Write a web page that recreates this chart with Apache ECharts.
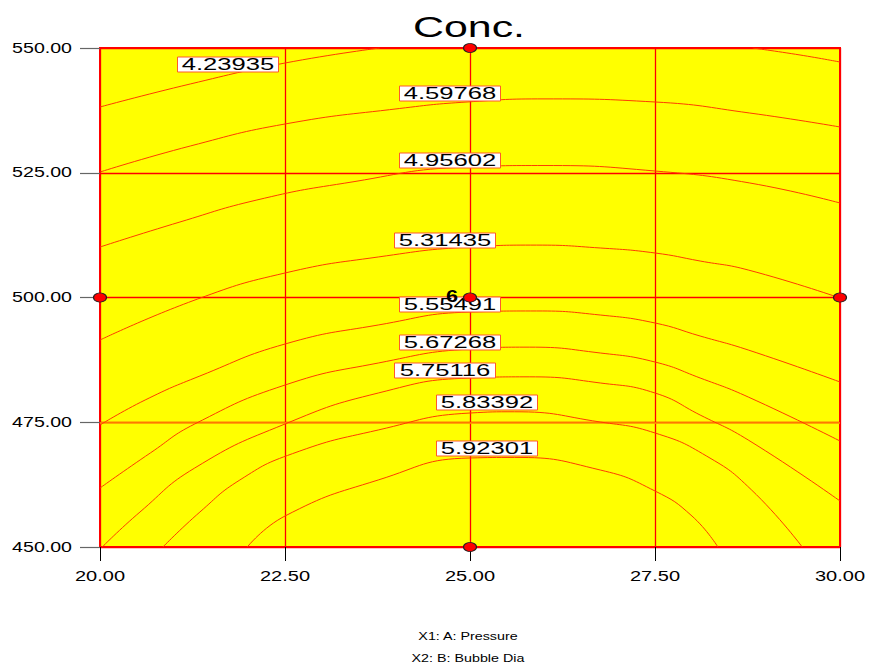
<!DOCTYPE html>
<html>
<head>
<meta charset="utf-8">
<script src="https://cdn.jsdelivr.net/npm/echarts@6/dist/echarts.min.js"></script>
<style>
  html, body { margin: 0; padding: 0; background: #ffffff; }
  #chart { width: 869px; height: 664px; }
</style>
</head>
<body>
<div id="chart"></div>
<script>
// Contour plot of the response "Conc." over Pressure (X1) and Bubble Dia (X2)

const xTicks = [20, 22.5, 25, 27.5, 30];
const yTicks = [450, 475, 500, 525, 550];

const contourLevels = [4.23935, 4.59768, 4.95602, 5.31435, 5.55491, 5.67268, 5.75116, 5.83392, 5.92301];

// contour traces, [pressure, bubble dia]
const level1Left  = [[20, 538.18], [21.22, 542.79], [22.5, 546.99], [23.78, 550]];
const level1Right = [[28.82, 550], [29.46, 548.6], [30, 547.19]];
const level2 = [[20, 525.15], [21.22, 530.36], [22.5, 534.77], [24.05, 537.88], [24.96, 539.18],
                [26.0, 539.8], [27.5, 539.18], [28.78, 536.97], [30, 534.17]];
const level3 = [[20, 510.12], [21.08, 515.13], [22.12, 519.54], [23.3, 522.9], [24.96, 526.15],
                [26.0, 526.45], [27.5, 525.35], [28.78, 522.95], [30, 518.94]];
const level4 = [[20, 491.48], [21.32, 499.7], [22.5, 504.91], [23.76, 508.12], [25, 510.12], [25.9, 510.5],
                [26.76, 509.92], [27.5, 508.92], [28.11, 507.31], [28.76, 505.51], [30, 499.9]];
const level5 = [[20, 474.45], [20.61, 479.46], [21.35, 484.27], [22.5, 490.68], [23.76, 494.49], [25, 497.09],
                [25.9, 497.3], [26.76, 496.49], [27.5, 494.89], [28.11, 492.28], [28.76, 489.48], [30, 483.07]];
const level6 = [[20, 461.82], [20.68, 468.84], [21.28, 474.65], [22.5, 482.46], [23.76, 486.87],
                [25, 489.68], [25.8, 490.05], [26.76, 488.88], [27.5, 487.07], [28.11, 483.87], [28.76, 480.06], [30, 471.24]];
const level7 = [[20.03, 450], [20.54, 457.01], [21.28, 465.83], [22.5, 474.65], [23.76, 480.86],
                [25, 483.87], [25.8, 484.1], [26.76, 482.87], [27.5, 480.86], [28.11, 476.45], [28.76, 471.44], [30, 459.22]];
const level8 = [[20.85, 450], [21.35, 457.01], [21.89, 463.43], [22.6, 468.7], [23.76, 473.45],
                [25, 476.85], [25.6, 477.1], [26.76, 475.05], [27.5, 472.85], [28.2, 468.2], [28.8, 461.5], [29.49, 450]];
const level9 = [[21.99, 450], [22.5, 456.21], [23.76, 463.43], [25, 467.84], [25.6, 467.95],
                [26.76, 465.43], [27.5, 461.22], [28.0, 456.2], [28.35, 450]];

// design runs; the centre point holds several replicates
const designPoints = [[25, 550], [20, 500], [25, 500], [30, 500], [25, 450]];
const centerPoint = [25, 500];
const centerReplicates = 6;

// ---- layout ----
const levelLabelAt = [[21.73, 546.79], [24.73, 540.98], [24.73, 527.56], [24.66, 511.52], [24.73, 498.70],
                      [24.73, 491.08], [24.66, 485.47], [25.23, 479.06], [25.23, 469.84]];
const FONT = '"Liberation Sans", Arial, Helvetica, sans-serif';

const traces = [level1Left, level1Right, level2, level3, level4, level5, level6, level7, level8, level9];

const contourSeries = traces.map((pts, i) => ({
  type: 'line',
  name: 'contour' + i,
  data: pts,
  symbol: 'none',
  smooth: 0.5,
  silent: true,
  z: 3,
  lineStyle: { color: '#ff3c00', width: 1 }
}));

// orange reference line at 475
contourSeries[0].markLine = {
  silent: true,
  symbol: 'none',
  label: { show: false },
  lineStyle: { color: '#ffa000', width: 1.5, type: 'solid' },
  data: [{ yAxis: 475 }],
  z: 2
};

const chart = echarts.init(document.getElementById('chart'), null, { renderer: 'svg' });

chart.setOption({
  animation: false,
  backgroundColor: '#ffffff',
  grid: {
    left: 100, right: 29, top: 48, bottom: 117,
    containLabel: false,
    outerBoundsMode: 'none',
    show: true,
    backgroundColor: '#ffff00',
    borderColor: '#ff0000',
    borderWidth: 2
  },
  xAxis: {
    type: 'value', min: 20, max: 30, interval: 2.5,
    axisLine: { show: false },
    axisTick: { show: true, length: 14, lineStyle: { color: '#000', width: 1 } },
    axisLabel: { show: false },
    splitLine: { show: true, lineStyle: { color: '#ff0000', width: 1.3 } }
  },
  yAxis: {
    type: 'value', min: 450, max: 550, interval: 25,
    axisLine: { show: false },
    axisTick: { show: true, length: 20, lineStyle: { color: '#666', width: 1.2 } },
    axisLabel: { show: false },
    splitLine: { show: true, lineStyle: { color: '#ff0000', width: 1.3 } }
  },
  graphic: [
    { type: 'text', x: 469, y: 27, scaleX: 1.48, z: 10,
      style: { text: 'Conc.', align: 'center', verticalAlign: 'middle', font: '29px ' + FONT, fill: '#000' } },
    { type: 'text', x: 468, y: 636, scaleX: 1.3, z: 10,
      style: { text: 'X1: A: Pressure', align: 'center', verticalAlign: 'middle', font: '11px ' + FONT, fill: '#000' } },
    { type: 'text', x: 468, y: 658, scaleX: 1.3, z: 10,
      style: { text: 'X2: B: Bubble Dia', align: 'center', verticalAlign: 'middle', font: '11px ' + FONT, fill: '#000' } }
  ],
  series: contourSeries.concat([
    {
      // contour level labels
      type: 'custom',
      name: 'levelLabels',
      silent: true,
      z: 5,
      clip: false,
      data: levelLabelAt.map((p, i) => [p[0], p[1], contourLevels[i]]),
      encode: { x: 0, y: 1 },
      renderItem(params, api) {
        const p = api.coord([api.value(0), api.value(1)]);
        return {
          type: 'group', x: Math.round(p[0]), y: Math.round(p[1]) + 0.5,
          children: [
            { type: 'rect', shape: { x: -50.5, y: -7.5, width: 101, height: 15 },
              style: { fill: '#ffffff', stroke: '#ff5a2a', lineWidth: 1 } },
            { type: 'text', x: 0, y: 0.5, scaleX: 1.6,
              style: { text: api.value(2).toFixed(5), x: 0, y: 0, align: 'center', verticalAlign: 'middle',
                       font: '16px ' + FONT, fill: '#000' } }
          ]
        };
      }
    },
    {
      // y tick labels
      type: 'custom',
      name: 'yTickLabels',
      silent: true,
      clip: false,
      z: 6,
      data: yTicks.map(v => [xTicks[0], v]),
      encode: { x: 0, y: 1 },
      renderItem(params, api) {
        const p = api.coord([api.value(0), api.value(1)]);
        return { type: 'text', x: p[0] - 28, y: p[1], scaleX: 1.4,
          style: { text: api.value(1).toFixed(2), x: 0, y: 0, align: 'right', verticalAlign: 'middle',
                   font: '14px ' + FONT, fill: '#000' } };
      }
    },
    {
      // x tick labels
      type: 'custom',
      name: 'xTickLabels',
      silent: true,
      clip: false,
      z: 6,
      data: xTicks.map(v => [v, yTicks[0]]),
      encode: { x: 0, y: 1 },
      renderItem(params, api) {
        const p = api.coord([api.value(0), api.value(1)]);
        return { type: 'text', x: p[0], y: p[1] + 29, scaleX: 1.43,
          style: { text: api.value(0).toFixed(2), x: 0, y: 0, align: 'center', verticalAlign: 'middle',
                   font: '14px ' + FONT, fill: '#000' } };
      }
    },
    {
      type: 'scatter',
      name: 'design',
      data: designPoints,
      symbol: 'circle',
      symbolSize: [13, 9],
      clip: false,
      silent: true,
      z: 8,
      itemStyle: { color: '#ff0000', borderColor: '#222', borderWidth: 1, opacity: 1 }
    },
    {
      // replicate count at the centre point
      type: 'custom',
      name: 'replicates',
      silent: true,
      clip: false,
      z: 9,
      data: [[centerPoint[0], centerPoint[1], centerReplicates]],
      encode: { x: 0, y: 1 },
      renderItem(params, api) {
        const p = api.coord([api.value(0), api.value(1)]);
        return { type: 'text', x: p[0] - 18, y: p[1] - 1, scaleX: 1.35,
          style: { text: String(api.value(2)), x: 0, y: 0, align: 'center', verticalAlign: 'middle',
                   font: 'bold 16px ' + FONT, fill: '#000' } };
      }
    }
  ])
});
</script>
</body>
</html>
